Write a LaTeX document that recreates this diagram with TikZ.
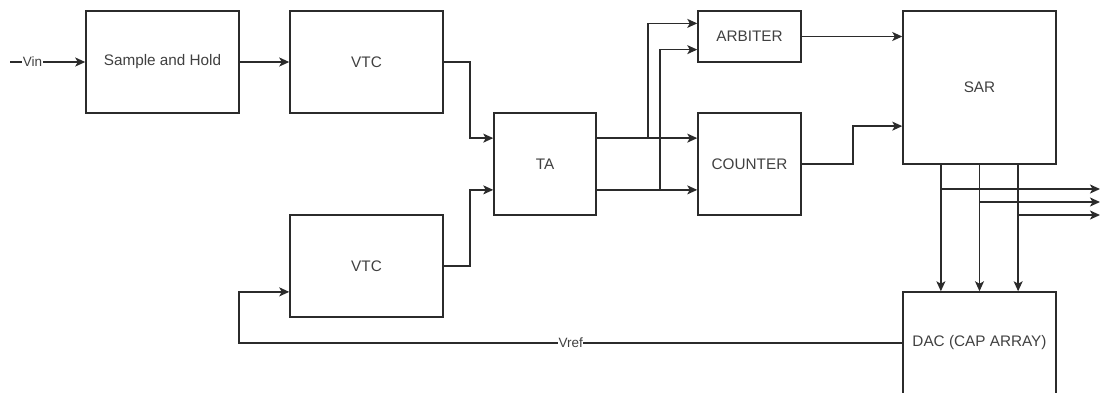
\documentclass[tikz,border=0pt]{standalone}
\usepackage{fontspec}
\setmainfont{Liberation Sans}
\usetikzlibrary{calc,positioning,arrows.meta}
\definecolor{ink}{HTML}{2B2B2B}

\tikzset{
  blk/.style={draw=ink, line width=1.5pt, text=ink!90, inner sep=0pt,
    font=\fontsize{15.3}{18}\selectfont},
  wire/.style={draw=ink, line width=1.5pt},
  arr/.style={wire, -{Stealth[length=10pt,width=9pt,inset=2.5pt]}},
  lbl/.style={fill=white, text=ink!90, inner sep=0.5pt, font=\fontsize{13.5}{16}\selectfont}
}

\begin{document}
\begin{tikzpicture}[x=1pt, y=-1pt]
  \useasboundingbox (0,0) rectangle (1101,392);

  % blocks
  \node[blk, minimum width=153pt, minimum height=102pt] (sh)   at (162.5,62)  {Sample and Hold};
  \node[blk, minimum width=153pt, minimum height=102pt] (vtcA) at (366.5,62)  {VTC};
  \node[blk, minimum width=153pt, minimum height=102pt] (vtcB) at (366.5,266) {VTC};
  \node[blk, minimum width=102pt, minimum height=102pt] (ta)   at (545,164)   {TA};
  \node[blk, minimum width=103pt, minimum height=51pt]  (arb)  at (749.5,36.5) {ARBITER};
  \node[blk, minimum width=103pt, minimum height=102pt] (cnt)  at (749.5,164) {COUNTER};
  \node[blk, minimum width=153pt, minimum height=153pt] (sar)  at (979.5,87.5) {SAR};
  \node[blk, minimum width=153pt, minimum height=102pt] (dac)  at (979.5,343) {DAC (CAP ARRAY)};

  % input
  \coordinate (vin) at (10,62);
  \draw[arr] (vin) -- node[lbl, pos=0.3] {Vin} (sh.west);
  \draw[arr] (sh.east) -- (vtcA.west);

  % VTC to TA
  \draw[arr] (vtcA.east) -- ++(26,0) |- ($(ta.north west)!0.25!(ta.south west)$);
  \draw[arr] (vtcB.east) -- ++(26,0) |- ($(ta.north west)!0.75!(ta.south west)$);

  % TA to counter and arbiter
  \draw[arr] ($(ta.north east)!0.25!(ta.south east)$) -- ($(cnt.north west)!0.25!(cnt.south west)$);
  \draw[arr] ($(ta.north east)!0.75!(ta.south east)$) -- ($(cnt.north west)!0.75!(cnt.south west)$);
  \coordinate (brA) at (648,138);
  \coordinate (brB) at (660,189);
  \draw[arr] (brA) |- ($(arb.north west)!0.25!(arb.south west)$);
  \draw[arr] (brB) |- ($(arb.north west)!0.75!(arb.south west)$);

  % to SAR
  \draw[arr] (arb.east) -- (sar.west |- arb.east);
  \draw[arr] (cnt.east) -- ++(51,0) |- ($(sar.north west)!0.75!(sar.south west)$);

  % SAR to DAC and outputs
  \foreach \f/\yy in {0.25/189, 0.5/202, 0.75/215} {
    \coordinate (tap) at ($(sar.south west)!\f!(sar.south east)$);
    \coordinate (out) at (1100,\yy);
    \draw[arr] (tap) -- ($(dac.north west)!\f!(dac.north east)$);
    \draw[arr] (tap |- out) -- (out);
  }

  % feedback
  \coordinate (fb) at (239,343);
  \draw[arr] (dac.west) -- node[lbl, pos=0.5] {Vref} (fb)
    |- ($(vtcB.north west)!0.75!(vtcB.south west)$);
\end{tikzpicture}
\end{document}
